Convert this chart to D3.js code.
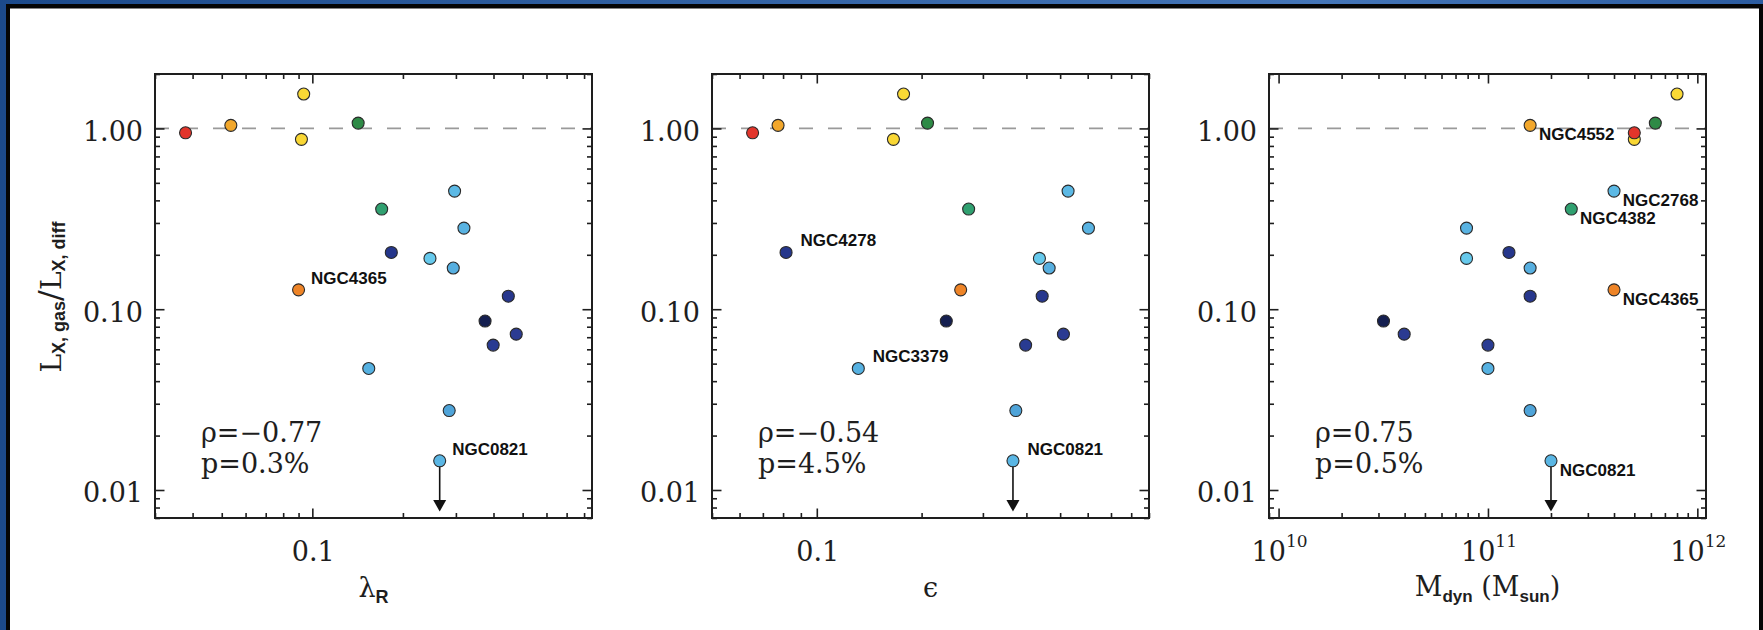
<!DOCTYPE html>
<html>
<head>
<meta charset="utf-8">
<script src="https://cdn.jsdelivr.net/npm/d3@7"></script>
<style>
  body { margin: 0; background: #fff; }
  svg { display: block; }
</style>
</head>
<body>
<svg id="fig" width="1763" height="630"></svg>
<script>
// ---- data: one entry per galaxy ----
const galaxyNames = [null, null, "NGC4552", null, null, "NGC4382", "NGC2768", null, "NGC4278", null,
                     null, "NGC4365", null, null, null, null, "NGC3379", null, "NGC0821"];
const gasFraction = [0.87, 0.946, 1.04, 1.55, 1.07, 0.358, 0.45, 0.281, 0.206, 0.191,
                     0.169, 0.128, 0.118, 0.086, 0.0728, 0.0633, 0.047, 0.0275, 0.0145];
const lambdaR     = [0.092, 0.0379, 0.0536, 0.0936, 0.142, 0.170, 0.297, 0.319, 0.183, 0.246,
                     0.294, 0.090, 0.448, 0.375, 0.476, 0.399, 0.154, 0.285, 0.265];
const ellipticity = [0.166, 0.0654, 0.0774, 0.1775, 0.208, 0.273, 0.527, 0.603, 0.0816, 0.436,
                     0.465, 0.259, 0.444, 0.2355, 0.511, 0.398, 0.1316, 0.373, 0.366];
const dynMass     = [5.0e11, 5.0e11, 1.59e11, 8.0e11, 6.3e11, 2.5e11, 4.0e11, 7.9e10, 1.26e11, 7.9e10,
                     1.59e11, 4.0e11, 1.59e11, 3.17e10, 3.98e10, 1.0e11, 1.0e11, 1.59e11, 2.0e11];
const isUpperLimit = [false, false, false, false, false, false, false, false, false, false,
                      false, false, false, false, false, false, false, false, true];
const upperLimitTip = 0.0076;

// marker fill per galaxy
const pointColors = ["#f9d734", "#e2352b", "#f2a72b", "#fad935", "#2e8a46", "#30a070", "#5cb9e5", "#59b3e2", "#25368b", "#66c9ec",
                     "#57afe0", "#ee8427", "#27378d", "#151f50", "#2b3b92", "#293b92", "#56b1e1", "#4fa4d9", "#5ab6e4"];

// ---- panel definitions ----
const xDomains = [[0.03, 0.85], [0.05, 0.9], [9e9, 1.1e12]];
const xSeries = [lambdaR, ellipticity, dynMass];
const yDomain = [0.007, 2];
const yTickValues = [1, 0.1, 0.01];
const yTickLabels = ["1.00", "0.10", "0.01"];
const xTickValues = [[0.1], [0.1], [1e10, 1e11, 1e12]];
const xTickLabels = [["0.1"], ["0.1"], [["10", "10"], ["10", "11"], ["10", "12"]]];
const rhoLabels = ["ρ=−0.77", "ρ=−0.54", "ρ=0.75"];
const pLabels = ["p=0.3%", "p=4.5%", "p=0.5%"];
const labelledGalaxies = [
  ["NGC4365", "NGC0821"],
  ["NGC4278", "NGC3379", "NGC0821"],
  ["NGC4552", "NGC2768", "NGC4382", "NGC4365", "NGC0821"]
];

// ---- layout ----
const W = 1763, H = 630;
const panelLeft = [155, 712, 1269];
const panelW = 437;
const plotTop = 74, plotBottom = 518;
const serif = "'DejaVu Serif', serif";
const sans = "'Liberation Sans', Arial, sans-serif";
const ink = "#1e1e1e";

const svg = d3.select("#fig");

// slide frame: blue band, black rule, white page
const defs = svg.append("defs");
const grad = defs.append("linearGradient").attr("id", "band").attr("x1", "0").attr("x2", "1").attr("y1", "0").attr("y2", "0");
grad.append("stop").attr("offset", "0").attr("stop-color", "#1c4a8b");
grad.append("stop").attr("offset", "0.75").attr("stop-color", "#4576b8");
grad.append("stop").attr("offset", "1").attr("stop-color", "#2c5ca0");
svg.append("rect").attr("x", 0).attr("y", 0).attr("width", W).attr("height", H).attr("fill", "url(#band)");
svg.append("rect").attr("x", 6).attr("y", 4).attr("width", W - 6).attr("height", H - 4).attr("fill", "#050505");
svg.append("rect").attr("x", 10).attr("y", 8.5).attr("width", 1749).attr("height", H - 8.5).attr("fill", "#fff");

function logTicks(domain) {
  const [a, b] = domain;
  const out = [];
  for (let n = Math.floor(Math.log10(a)); n <= Math.ceil(Math.log10(b)); n++) {
    for (let k = 1; k <= 9; k++) {
      const v = k * Math.pow(10, n);
      if (v >= a * 0.999 && v <= b * 1.001) out.push({ v, major: k === 1 });
    }
  }
  return out;
}

const y = d3.scaleLog().domain(yDomain).range([plotBottom, plotTop]);
const yAll = logTicks(yDomain);
const yMinor = yAll.filter(d => !d.major).map(d => d.v);
const yMajor = yAll.filter(d => d.major).map(d => d.v);

function styleAxis(sel) {
  sel.select(".domain").remove();
  sel.selectAll(".tick line").attr("stroke", ink).attr("stroke-width", 1.6);
}

xDomains.forEach((dom, i) => {
  const left = panelLeft[i];
  const x = d3.scaleLog().domain(dom).range([left, left + panelW]);
  const g = svg.append("g");

  const xAll = logTicks(dom);
  const xMinor = xAll.filter(d => !d.major).map(d => d.v);
  const xMajor = xAll.filter(d => d.major).map(d => d.v);

  // unity reference line
  g.append("line")
    .attr("x1", left).attr("x2", left + panelW)
    .attr("y1", y(1)).attr("y2", y(1))
    .attr("stroke", "#9a9a9a").attr("stroke-width", 1.6)
    .attr("stroke-dasharray", "14,15");

  // inward ticks on all four sides: minor then major
  const sides = [
    [() => d3.axisBottom(x), `translate(0,${plotBottom})`, xMinor, xMajor],
    [() => d3.axisTop(x), `translate(0,${plotTop})`, xMinor, xMajor],
    [() => d3.axisLeft(y), `translate(${left},0)`, yMinor, yMajor],
    [() => d3.axisRight(y), `translate(${left + panelW},0)`, yMinor, yMajor]
  ];
  sides.forEach(([mk, tr, minor, major]) => {
    g.append("g").attr("transform", tr)
      .call(mk().tickValues(minor).tickSize(-5).tickSizeOuter(0).tickFormat(""))
      .call(styleAxis);
    g.append("g").attr("transform", tr)
      .call(mk().tickValues(major).tickSize(-9.5).tickSizeOuter(0).tickFormat(""))
      .call(styleAxis);
  });

  // frame
  g.append("rect")
    .attr("x", left).attr("y", plotTop).attr("width", panelW).attr("height", plotBottom - plotTop)
    .attr("fill", "none").attr("stroke", ink).attr("stroke-width", 2);

  // y tick labels
  yTickValues.forEach((v, k) => {
    g.append("text")
      .attr("x", left - 12).attr("y", y(v) + 12.5)
      .attr("text-anchor", "end")
      .attr("font-family", serif).attr("font-size", 27).attr("fill", ink)
      .text(yTickLabels[k]);
  });

  // x tick labels
  xTickValues[i].forEach((v, k) => {
    const lab = xTickLabels[i][k];
    const t = g.append("text")
      .attr("x", x(v) + 1).attr("y", 561)
      .attr("text-anchor", "middle")
      .attr("font-family", serif).attr("font-size", 27).attr("fill", ink);
    if (Array.isArray(lab)) {
      t.append("tspan").text(lab[0]);
      t.append("tspan").attr("font-size", 17).attr("dy", -14).text(lab[1]);
    } else {
      t.text(lab);
    }
  });

  // upper-limit arrows
  const xs = xSeries[i];
  gasFraction.forEach((v, k) => {
    if (!isUpperLimit[k]) return;
    const cx = x(xs[k]);
    const tipY = y(upperLimitTip);
    g.append("line")
      .attr("x1", cx).attr("x2", cx)
      .attr("y1", y(v)).attr("y2", tipY - 10)
      .attr("stroke", "#111").attr("stroke-width", 1.6);
    g.append("path")
      .attr("d", `M${cx - 6.5},${tipY - 11.5} L${cx + 6.5},${tipY - 11.5} L${cx},${tipY} Z`)
      .attr("fill", "#111");
  });

  // points
  g.selectAll("circle.pt")
    .data(gasFraction.map((v, k) => ({ v, xv: xs[k], c: pointColors[k] })))
    .join("circle")
    .attr("class", "pt")
    .attr("cx", d => x(d.xv)).attr("cy", d => y(d.v))
    .attr("r", 6)
    .attr("fill", d => d.c)
    .attr("stroke", "#2a2a2a").attr("stroke-width", 1.1);

  // galaxy name labels
  const below = i === 2;
  const dx = i === 0 ? 12.5 : (i === 1 ? 14.5 : 8.8);
  const dy = below ? 14.8 : -6.3;
  labelledGalaxies[i].forEach(name => {
    const k = galaxyNames.indexOf(name);
    g.append("text")
      .attr("x", x(xs[k]) + dx).attr("y", y(gasFraction[k]) + dy)
      .attr("font-family", sans).attr("font-weight", "bold").attr("font-size", 17)
      .attr("fill", "#111")
      .text(name);
  });

  // correlation statistics
  g.append("text")
    .attr("x", left + 46).attr("y", 441.7)
    .attr("font-family", serif).attr("font-size", 27).attr("fill", ink)
    .text(rhoLabels[i]);
  g.append("text")
    .attr("x", left + 46).attr("y", 472.7)
    .attr("font-family", serif).attr("font-size", 27).attr("fill", ink)
    .text(pLabels[i]);
});

// x-axis titles
const cx0 = panelLeft[0] + panelW / 2, cx1 = panelLeft[1] + panelW / 2, cx2 = panelLeft[2] + panelW / 2;
const t0 = svg.append("text").attr("x", cx0).attr("y", 597).attr("text-anchor", "middle")
  .attr("font-family", serif).attr("font-size", 27).attr("fill", ink);
t0.append("tspan").text("λ");
t0.append("tspan").attr("font-family", sans).attr("font-weight", "bold").attr("font-size", 18).attr("dy", 6).text("R");

svg.append("text").attr("x", cx1).attr("y", 597).attr("text-anchor", "middle")
  .attr("font-family", serif).attr("font-size", 27).attr("fill", ink).text("ϵ");

const t2 = svg.append("text").attr("x", cx2).attr("y", 596).attr("text-anchor", "middle")
  .attr("font-family", serif).attr("font-size", 27).attr("fill", ink);
t2.append("tspan").text("M");
t2.append("tspan").attr("font-family", sans).attr("font-weight", "bold").attr("font-size", 17).attr("dy", 6).text("dyn");
t2.append("tspan").attr("dy", -6).text(" (M");
t2.append("tspan").attr("font-family", sans).attr("font-weight", "bold").attr("font-size", 17).attr("dy", 6).text("sun");
t2.append("tspan").attr("dy", -6).text(")");

// y-axis title
const ty = svg.append("text")
  .attr("transform", "translate(61,297) rotate(-90)")
  .attr("text-anchor", "middle")
  .attr("font-family", serif).attr("font-size", 28).attr("fill", ink);
ty.append("tspan").text("L");
ty.append("tspan").attr("font-family", sans).attr("font-weight", "bold").attr("font-size", 18).attr("dy", 4).text("X, gas");
ty.append("tspan").attr("font-size", 32).attr("dy", -4).text("/");
ty.append("tspan").text("L");
ty.append("tspan").attr("font-family", sans).attr("font-weight", "bold").attr("font-size", 18).attr("dy", 4).text("X, diff");
</script>
</body>
</html>
